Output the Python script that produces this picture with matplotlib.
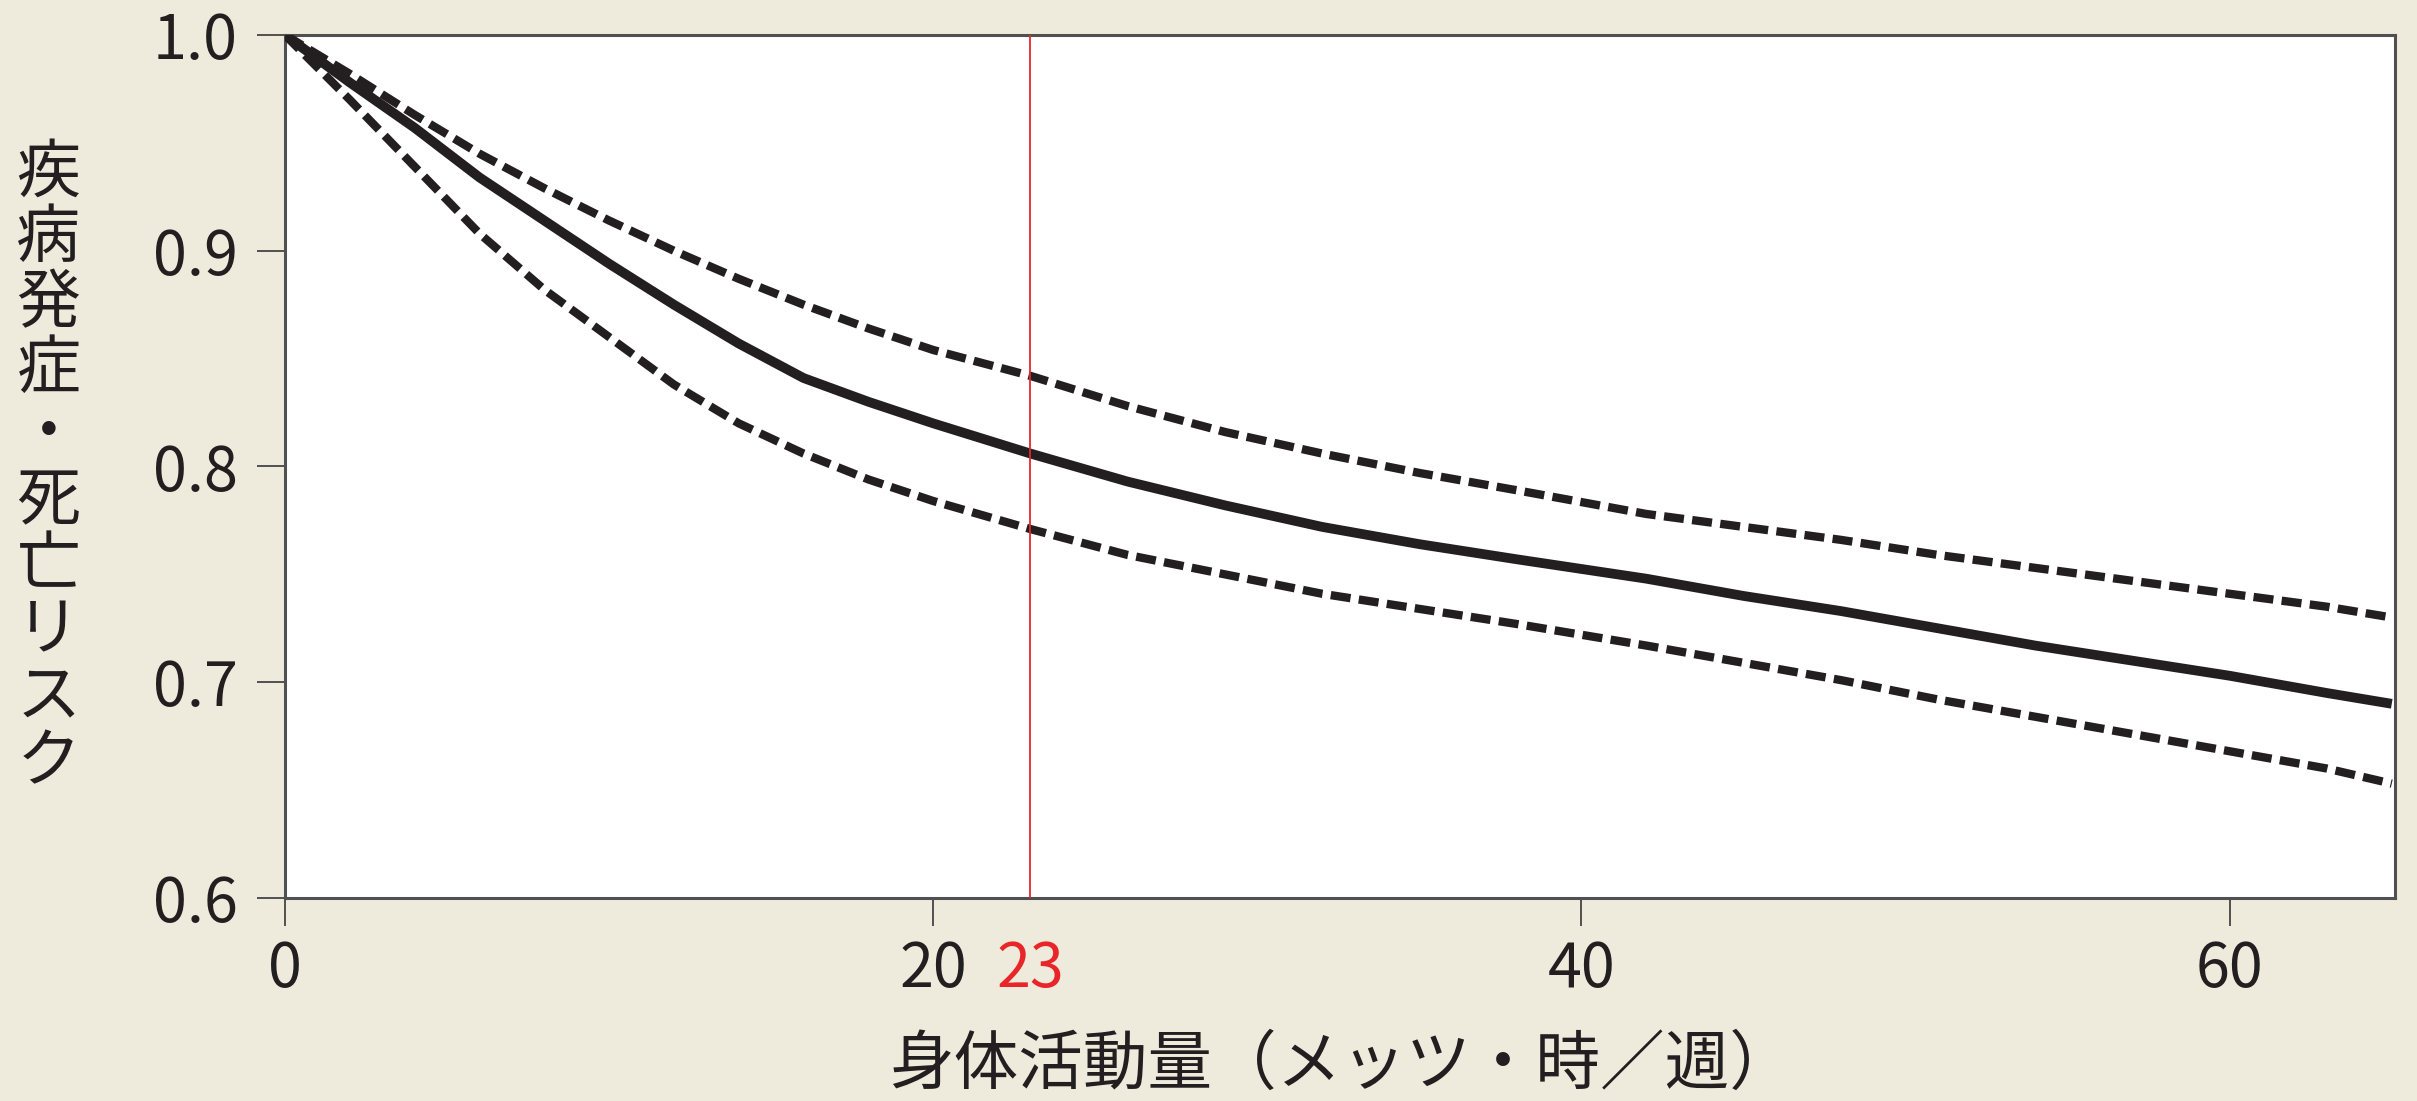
import numpy as np
import matplotlib.pyplot as plt

plt.rcParams['font.family'] = ['Noto Sans CJK JP', 'DejaVu Sans']

# Physical activity (METs·h/week) and relative risk with its confidence band
activity = [0, 2, 4, 6, 8, 10, 12, 14, 16, 18, 20, 23, 26, 29, 32, 35, 38, 42,
            45, 48, 51, 54, 57, 60, 63, 65]
risk = [1.000, 0.978, 0.957, 0.934, 0.914, 0.894, 0.875, 0.857, 0.841, 0.830, 0.820,
        0.806, 0.793, 0.782, 0.772, 0.764, 0.757, 0.748, 0.740, 0.733, 0.725, 0.717,
        0.710, 0.703, 0.695, 0.690]
risk_upper = [1.000, 0.982, 0.963, 0.945, 0.929, 0.914, 0.900, 0.887, 0.875, 0.864, 0.854,
              0.842, 0.828, 0.816, 0.806, 0.797, 0.789, 0.778, 0.772, 0.766, 0.759, 0.753,
              0.747, 0.741, 0.735, 0.730]
risk_lower = [1.000, 0.970, 0.939, 0.908, 0.882, 0.860, 0.838, 0.820, 0.806, 0.794, 0.784,
              0.771, 0.759, 0.750, 0.741, 0.734, 0.727, 0.717, 0.709, 0.701, 0.692, 0.684,
              0.676, 0.668, 0.660, 0.653]

x_ticks = [0, 20, 40, 60]
y_ticks = [0.6, 0.7, 0.8, 0.9, 1.0]
y_tick_labels = ['0.6', '0.7', '0.8', '0.9', '1.0']
reference_level = 23

bg = '#efebdc'
ink = '#231f20'
red = '#e8262a'

fig = plt.figure(figsize=(24.17, 11.01), dpi=100, facecolor=bg)
ax = fig.add_axes([0.1179, 0.1844, 0.8730, 0.7838])
ax.set_facecolor('white')

dash = (0, (2.4, 1.0))
ax.plot(activity, risk_upper, color=ink, lw=6, linestyle=dash,
        dash_capstyle='butt', dash_joinstyle='round', zorder=3)
ax.plot(activity, risk_lower, color=ink, lw=6, linestyle=dash,
        dash_capstyle='butt', dash_joinstyle='round', zorder=3)
ax.plot(activity, risk, color=ink, lw=7, solid_capstyle='butt',
        solid_joinstyle='round', zorder=4)

# recommended activity level
ax.axvline(reference_level, color=red, lw=1.3, zorder=5)

ax.set_xlim(0, 65.1)
ax.set_ylim(0.6, 1.0)

for side in ['left', 'right', 'top', 'bottom']:
    ax.spines[side].set_color('#505050')
    ax.spines[side].set_linewidth(2.2)

ax.set_xticks(x_ticks)
ax.set_xticklabels([str(v) for v in x_ticks])
ax.set_yticks(y_ticks)
ax.set_yticklabels(y_tick_labels)
ax.tick_params(axis='both', which='major', direction='out', length=20, width=1.4,
               color='#505050', labelsize=44, labelcolor=ink)
ax.tick_params(axis='x', which='major', pad=9)
ax.tick_params(axis='y', which='major', pad=14)

# red label for the reference level, without a tick mark
ax.set_xticks([reference_level], labels=[str(reference_level)], minor=True)
ax.tick_params(axis='x', which='minor', length=0, pad=29, labelsize=44, labelcolor=red)

fig.text(0.020, 0.575, '\n'.join('疾病発症・死亡リスク'), fontsize=46, color=ink,
         ha='center', va='center', linespacing=0.98)
fig.text(0.555, 0.032, '身体活動量（メッツ・時／週）', fontsize=46.5, color=ink,
         ha='center', va='center')

fig.savefig('out.png', dpi=100, facecolor=bg)
